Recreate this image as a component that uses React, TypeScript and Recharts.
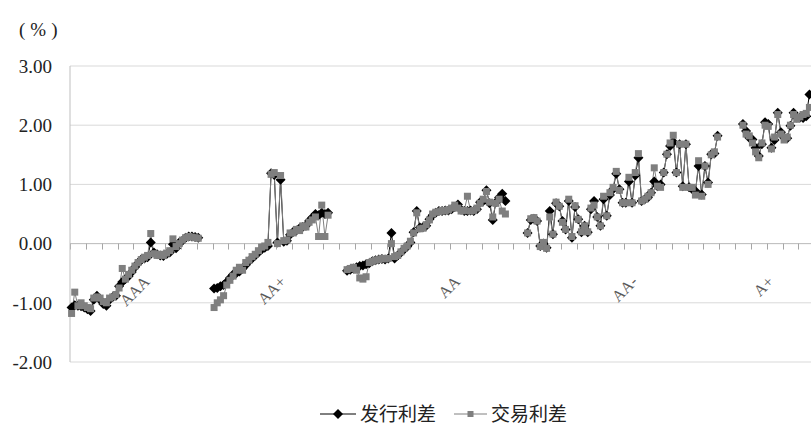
import { LineChart, Line, XAxis, YAxis, CartesianGrid, ReferenceLine, ReferenceDot } from "recharts";

const ratings = ["AAA", "AA+", "AA", "AA-", "A+"];

// 发行利差 (issue spread) per rating group
const issueAAA = [-1.08, -1.04, -1.05, -1.06, -1.08, -1.11, -1.14, -0.95, -0.88, -0.95, -1.02, -1.05, -0.95, -0.9, -0.88, -0.72, -0.65, -0.6, -0.55, -0.48, -0.4, -0.33, -0.27, -0.25, -0.23, 0.02, -0.15, -0.18, -0.2, -0.21, -0.18, -0.15, -0.01, -0.08, 0.02, 0.05, 0.1, 0.12, 0.12, 0.11, 0.1];
const issueAAp = [-0.76, -0.75, -0.72, -0.7, -0.65, -0.58, -0.52, -0.5, -0.47, -0.42, -0.36, -0.3, -0.25, -0.2, -0.15, -0.1, -0.07, -0.04, 1.19, 1.16, 0.02, 1.08, 0.03, 0.05, 0.15, 0.2, 0.22, 0.26, 0.28, 0.3, 0.38, 0.44, 0.5, 0.48, 0.52, 0.5, 0.52];
const issueAA = [-0.46, -0.44, -0.42, -0.4, -0.38, -0.37, -0.35, -0.33, -0.3, -0.28, -0.27, -0.26, -0.27, -0.25, 0.18, -0.25, -0.2, -0.15, -0.1, -0.05, 0.02, 0.19, 0.55, 0.27, 0.28, 0.3, 0.41, 0.48, 0.52, 0.55, 0.55, 0.56, 0.56, 0.58, 0.62, 0.66, 0.57, 0.55, 0.55, 0.56, 0.55, 0.58, 0.7, 0.72, 0.9, 0.68, 0.4, 0.7, 0.78, 0.84, 0.72];
const issueAAm = [0.18, 0.4, 0.42, 0.38, -0.04, 0.0, -0.07, 0.55, 0.16, 0.68, 0.63, 0.38, 0.24, 0.72, 0.1, 0.62, 0.41, 0.19, 0.3, 0.19, 0.58, 0.72, 0.45, 0.3, 0.75, 0.47, 0.82, 0.92, 1.18, 0.92, 0.69, 0.69, 1.05, 0.69, 1.15, 1.45, 0.72, 0.75, 0.78, 0.86, 1.05, 0.97, 1.0, 1.2, 1.51, 1.65, 1.72, 1.2, 1.68, 0.97, 1.68, 0.95, 0.92, 0.89, 1.31, 0.83, 1.31, 1.03, 1.51, 1.52, 1.82];
const issueAp = [2.02, 1.9, 1.79, 1.76, 1.62, 1.48, 1.68, 2.05, 2.02, 1.62, 1.75, 2.21, 1.88, 1.79, 1.78, 1.99, 2.21, 2.13, 2.13, 2.12, 2.15, 2.52];

// 交易利差 (trading spread) per rating group
const tradeAAA = [-1.18, -0.82, -1.05, -1.0, -1.05, -1.08, -1.1, -0.92, -0.9, -0.92, -0.98, -1.0, -0.92, -0.9, -0.86, -0.75, -0.42, -0.6, -0.52, -0.45, -0.38, -0.32, -0.27, -0.23, -0.2, 0.17, -0.17, -0.2, -0.18, -0.2, -0.16, -0.12, 0.08, -0.05, 0.0, 0.06, 0.1, 0.12, 0.11, 0.1, 0.09];
const tradeAAp = [-1.08, -1.0, -0.95, -0.88, -0.7, -0.62, -0.55, -0.45, -0.4, -0.45, -0.32, -0.28, -0.22, -0.18, -0.12, -0.06, -0.04, 0.02, 1.17, 1.2, 0.0, 1.15, 0.05, 0.06, 0.18, 0.18, 0.24, 0.22, 0.3, 0.28, 0.36, 0.4, 0.45, 0.12, 0.65, 0.12, 0.48];
const tradeAA = [-0.44, -0.42, -0.4, -0.45, -0.58, -0.6, -0.56, -0.32, -0.3, -0.28, -0.27, -0.25, -0.26, -0.25, 0.0, -0.22, -0.2, -0.14, -0.08, -0.04, 0.04, 0.18, 0.52, 0.25, 0.26, 0.32, 0.4, 0.5, 0.53, 0.54, 0.56, 0.55, 0.57, 0.6, 0.65, 0.6, 0.55, 0.56, 0.8, 0.55, 0.56, 0.6, 0.68, 0.75, 0.88, 0.7, 0.45, 0.68, 0.75, 0.55, 0.5];
const tradeAAm = [0.18, 0.42, 0.44, 0.38, -0.05, 0.02, -0.08, 0.45, 0.16, 0.7, 0.63, 0.36, 0.24, 0.75, 0.12, 0.64, 0.41, 0.2, 0.3, 0.2, 0.6, 0.65, 0.45, 0.3, 0.8, 0.47, 0.86, 0.95, 1.22, 0.9, 0.69, 0.69, 1.12, 0.69, 1.2, 1.52, 0.72, 0.75, 0.8, 0.86, 1.28, 0.97, 0.95, 1.2, 1.51, 1.7, 1.83, 1.2, 1.68, 0.95, 1.68, 0.95, 0.95, 0.82, 1.4, 0.8, 1.31, 1.0, 1.5, 1.55, 1.8];
const tradeAp = [2.0, 1.85, 1.82, 1.7, 1.55, 1.45, 1.7, 2.0, 1.98, 1.6, 1.8, 2.18, 1.85, 1.75, 1.8, 2.0, 2.18, 2.1, 2.14, 2.18, 2.2, 2.3];

// empty categories after each group, and which point of the group carries its label
const gapAfter = [4, 5, 6, 7, 0];
const labelSlot = [25, 23, 36, 35, 10];
const yTicks = [-2, -1, 0, 1, 2, 3];

const issueGroups = [issueAAA, issueAAp, issueAA, issueAAm, issueAp];
const tradeGroups = [tradeAAA, tradeAAp, tradeAA, tradeAAm, tradeAp];

type Row = { idx: number; issue: number | null; trade: number | null };
const rows: Row[] = [];
const labels: { idx: number; name: string }[] = [];
issueGroups.forEach((vals, g) => {
  vals.forEach((v, k) => {
    if (k === labelSlot[g]) labels.push({ idx: rows.length, name: ratings[g] });
    rows.push({ idx: rows.length, issue: v, trade: tradeGroups[g][k] });
  });
  for (let k = 0; k < gapAfter[g]; k++) rows.push({ idx: rows.length, issue: null, trade: null });
});
const N = rows.length;
// tick marks on the category axis every 5 categories
const markTicks = Array.from({ length: Math.floor(N / 5) + 1 }, (_, k) => k * 5 - 0.5);

const W = 811;
const H = 426;
const TOP = 66;
const BOTTOM = 362;
const LEFT = 70;
const TICK_LEN = 0.1;

const SERIF = "'Liberation Serif', 'Noto Sans CJK SC', serif";
const AXIS = "#bfbfbf";

const Diamond = (p: any) => {
  if (p.value == null || p.cy == null) return <g key={p.index} />;
  const r = 5;
  return <path key={p.index} d={`M${p.cx},${p.cy - r}L${p.cx + r},${p.cy}L${p.cx},${p.cy + r}L${p.cx - r},${p.cy}Z`} fill="#000" />;
};

const Square = (p: any) => {
  if (p.value == null || p.cy == null) return <g key={p.index} />;
  const s = 3.5;
  return <rect key={p.index} x={p.cx - s} y={p.cy - s} width={s * 2} height={s * 2} fill="#7f7f7f" />;
};

const TickMark = (p: any) => (
  <rect x={Math.round(p.x1)} y={Math.min(p.y1, p.y2)} width={1} height={Math.abs(p.y2 - p.y1)} fill="#a6a6a6" />
);

const ratingLabel = (name: string) => (props: any) => {
  const vb = props.viewBox || {};
  const x = (vb.x ?? 0) + (vb.width ?? 0) / 2;
  const y = (vb.y ?? 0) + (vb.height ?? 0) / 2 + 39;
  return (
    <text x={x} y={y} transform={`rotate(-45 ${x} ${y})`} textAnchor="end" fontSize={16} fontFamily={SERIF} fill="#595959">
      {name}
    </text>
  );
};

export default function App() {
  return (
    <div style={{ position: "absolute", left: 0, top: 0, width: W, height: H, overflow: "hidden", background: "#fff" }}>
      <div style={{ position: "absolute", left: 19, top: 19, fontSize: 19, fontFamily: SERIF, color: "#222", letterSpacing: 5 }}>(%)</div>
      <LineChart width={W} height={H} data={rows} margin={{ top: TOP, right: 0, bottom: H - BOTTOM, left: 0 }}>
        <CartesianGrid vertical={false} stroke="#d9d9d9" />
        <YAxis
          domain={[yTicks[0], yTicks[yTicks.length - 1]]}
          ticks={yTicks}
          interval={0}
          width={LEFT}
          axisLine={{ stroke: AXIS }}
          tickLine={false}
          tickSize={0}
          tickMargin={18}
          tickFormatter={(v: number) => v.toFixed(2)}
          tick={{ fill: "#222", fontSize: 19, fontFamily: SERIF }}
        />
        <XAxis dataKey="idx" type="number" domain={[-0.5, N - 0.5]} hide />
        <ReferenceLine y={0} stroke={AXIS} />
        {markTicks.map((b) => (
          <ReferenceLine
            key={`t${b}`}
            segment={[
              { x: b, y: 0 },
              { x: b, y: -TICK_LEN },
            ]}
            ifOverflow="visible"
            shape={TickMark}
          />
        ))}
        {labels.map((l) => (
          <ReferenceDot key={l.name} x={l.idx} y={0} r={0} fill="none" stroke="none" ifOverflow="visible" label={ratingLabel(l.name)} />
        ))}
        <Line dataKey="issue" stroke="#000" strokeWidth={1} dot={Diamond} activeDot={false} isAnimationActive={false} />
        <Line dataKey="trade" stroke="#808080" strokeWidth={1} dot={Square} activeDot={false} isAnimationActive={false} />
      </LineChart>
      <svg width={W} height={30} style={{ position: "absolute", left: 0, top: 399 }}>
        <line x1={320} x2={356} y1={15} y2={15} stroke="#000" />
        <path d="M338,10L343,15L338,20L333,15Z" fill="#000" />
        <text x={360} y={15} dy="0.35em" fontSize={19} fontFamily={SERIF} fill="#222">发行利差</text>
        <line x1={454} x2={487} y1={15} y2={15} stroke="#808080" />
        <rect x={467.5} y={12} width={6} height={6} fill="#7f7f7f" />
        <text x={491} y={15} dy="0.35em" fontSize={19} fontFamily={SERIF} fill="#222">交易利差</text>
      </svg>
    </div>
  );
}
